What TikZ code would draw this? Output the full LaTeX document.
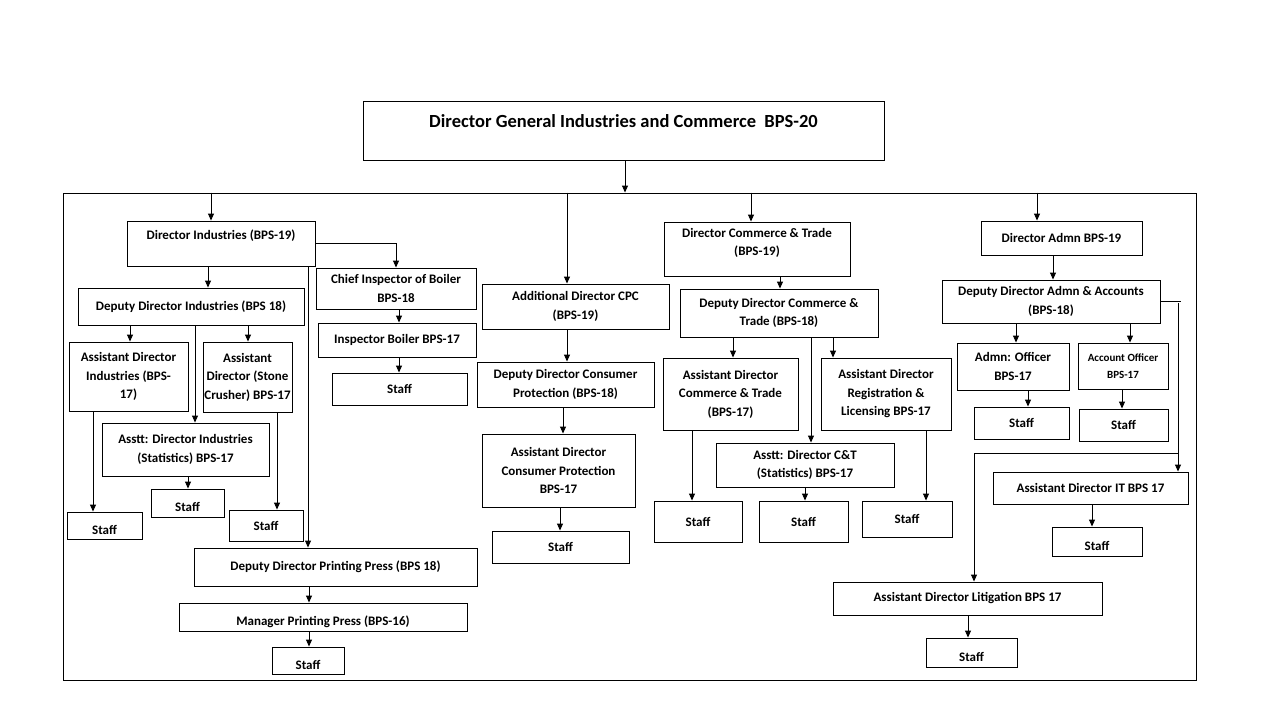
\documentclass[tikz,border=0pt]{standalone}
\usepackage{fontspec}
\setmainfont{Carlito}
\usetikzlibrary{arrows.meta}

\begin{document}
\begin{tikzpicture}[
		x=1pt, y=-1pt,
		box/.style = {
			draw,
			line width = 0.9pt,
			align = center,
			inner sep = 1pt,
			font = \bfseries\fontsize{13}{18.5}\selectfont
		},
		low/.style = {text height=17pt, text depth=0pt},
		arr/.style = {line width=0.9pt, -{Triangle[width=6pt,length=7pt]}}
	]
	\useasboundingbox (0,0) rectangle (1280,720);
	% head and frame
	\node[box, minimum width=521pt, minimum height=59pt, text height=13pt, text depth=20pt,
		font=\bfseries\fontsize{18.5}{22}\selectfont] (dg) at (623.5,130.5)
		{Director General Industries and Commerce\ \ BPS-20};
	\node[box, minimum width=1133pt, minimum height=487pt] (frame) at (629.5,436.5) {};
	% industries
	\node[box, minimum width=188pt, minimum height=45pt, text height=10pt, text depth=18pt] (di) at (221,243.5) {Director Industries (BPS-19)};
	\node[box, minimum width=160pt, minimum height=41pt] (cib) at (396,288.5) {Chief Inspector of Boiler\\BPS-18};
	\node[box, minimum width=158pt, minimum height=34pt] (ib) at (397,340) {Inspector Boiler BPS-17};
	\node[box, minimum width=135pt, minimum height=32pt] (stb) at (399.5,389) {Staff};
	\node[box, minimum width=226pt, minimum height=37pt] (ddi) at (191,306.5) {Deputy Director Industries (BPS 18)};
	\node[box, minimum width=119pt, minimum height=69pt] (adi) at (128.5,376.5) {Assistant Director\\Industries (BPS-\\17)};
	\node[box, minimum width=89pt, minimum height=70pt] (adsc) at (247.5,377) {Assistant\\Director (Stone\\Crusher) BPS-17};
	\node[box, minimum width=167pt, minimum height=53pt] (adis) at (185.5,449.5) {Asstt: Director Industries\\(Statistics) BPS-17};
	\node[box, low, minimum width=75pt, minimum height=27pt] (sta) at (104.5,525.5) {Staff};
	\node[box, low, minimum width=73pt, minimum height=28pt] (stis) at (187.5,503) {Staff};
	\node[box, minimum width=74pt, minimum height=31pt] (stsc) at (266,525.5) {Staff};
	\node[box, minimum width=283pt, minimum height=38pt] (ddpp) at (335.5,567) {Deputy Director Printing Press (BPS 18)};
	\node[box, low, minimum width=288pt, minimum height=28pt] (mpp) at (323,617) {Manager Printing Press (BPS-16)};
	\node[box, low, minimum width=72pt, minimum height=27pt] (stpp) at (308,660.5) {Staff};
	% consumer protection
	\node[box, minimum width=187pt, minimum height=45pt] (adcpc) at (575.5,306.5) {Additional Director CPC\\(BPS-19)};
	\node[box, minimum width=177pt, minimum height=45pt] (ddcp) at (565.5,384.5) {Deputy Director Consumer\\Protection (BPS-18)};
	\node[box, minimum width=153pt, minimum height=73pt] (adcp) at (558.5,470.5) {Assistant Director\\Consumer Protection\\BPS-17};
	\node[box, minimum width=137pt, minimum height=32pt] (stcp) at (560.5,547) {Staff};
	% commerce and trade
	\node[box, minimum width=186pt, minimum height=54pt, text depth=14pt] (dct) at (757,249) {Director Commerce \& Trade\\(BPS-19)};
	\node[box, minimum width=198pt, minimum height=48pt] (ddct) at (779,313) {Deputy Director Commerce \&\\Trade (BPS-18)};
	\node[box, minimum width=135pt, minimum height=72pt] (adct) at (730.5,394) {Assistant Director\\Commerce \& Trade\\(BPS-17)};
	\node[box, minimum width=130pt, minimum height=72pt] (adrl) at (886,394) {Assistant Director\\Registration \&\\Licensing BPS-17};
	\node[box, minimum width=178pt, minimum height=44pt] (adcts) at (805,465) {Asstt: Director C\&T\\(Statistics) BPS-17};
	\node[box, minimum width=88pt, minimum height=41pt] (stct) at (698,521.5) {Staff};
	\node[box, minimum width=89pt, minimum height=41pt] (stcs) at (803.5,521.5) {Staff};
	\node[box, minimum width=90pt, minimum height=36pt] (strl) at (907,519) {Staff};
	% admn
	\node[box, minimum width=161pt, minimum height=34pt] (da) at (1061.5,238) {Director Admn BPS-19};
	\node[box, minimum width=218pt, minimum height=43pt] (ddaa) at (1051,301.5) {Deputy Director Admn \& Accounts\\(BPS-18)};
	\node[box, minimum width=112pt, minimum height=47pt] (ao) at (1013,366.5) {Admn: Officer\\BPS-17};
	\node[box, minimum width=90pt, minimum height=46pt, font=\bfseries\fontsize{11}{17}\selectfont] (acco) at (1123,366) {Account Officer\\BPS-17};
	\node[box, minimum width=95pt, minimum height=32pt] (stao) at (1021.5,423) {Staff};
	\node[box, minimum width=89pt, minimum height=32pt] (stac) at (1123.5,425) {Staff};
	\node[box, minimum width=195pt, minimum height=32pt] (adit) at (1090.5,488) {Assistant Director IT BPS 17};
	\node[box, low, minimum width=90pt, minimum height=29pt] (stit) at (1097,541.5) {Staff};
	\node[box, minimum width=269pt, minimum height=33pt] (adl) at (967.5,598.5) {Assistant Director Litigation BPS 17};
	\node[box, low, minimum width=91pt, minimum height=29pt] (stl) at (971.5,652.5) {Staff};

	% connectors from the top
	\draw[arr] (dg.south -| 625,0) -- (625,0 |- frame.north);
	\draw[arr] (211,0 |- frame.north) -- (211,0 |- di.north);
	\draw[arr] (567,0 |- frame.north) -- (567,0 |- adcpc.north);
	\draw[arr] (751,0 |- frame.north) -- (751,0 |- dct.north);
	\draw[arr] (1037,0 |- frame.north) -- (1037,0 |- da.north);
	% industries
	\draw[arr] (di.east) -| (cib.north);
	\draw[arr] (399,0 |- cib.south) -- (399,0 |- ib.north);
	\draw[arr] (399,0 |- ib.south) -- (399,0 |- stb.north);
	\draw[arr] (208,0 |- di.south) -- (208,0 |- ddi.north);
	\draw[arr] (308,0 |- di.south) -- (308,0 |- ddpp.north);
	\draw[arr] (130,0 |- ddi.south) -- (130,0 |- adi.north);
	\draw[arr] (248,0 |- ddi.south) -- (248,0 |- adsc.north);
	\draw[arr] (195,0 |- ddi.south) -- (195,0 |- adis.north);
	\draw[arr] (93,0 |- adi.south) -- (93,0 |- sta.north);
	\draw[arr] (188,0 |- adis.south) -- (188,0 |- stis.north);
	\draw[arr] (277,0 |- adsc.south) -- (277,0 |- stsc.north);
	\draw[arr] (309,0 |- ddpp.south) -- (309,0 |- mpp.north);
	\draw[arr] (309,0 |- mpp.south) -- (309,0 |- stpp.north);
	% consumer protection
	\draw[arr] (567,0 |- adcpc.south) -- (567,0 |- ddcp.north);
	\draw[arr] (563,0 |- ddcp.south) -- (563,0 |- adcp.north);
	\draw[arr] (560,0 |- adcp.south) -- (560,0 |- stcp.north);
	% commerce and trade
	\draw[arr] (780,0 |- dct.south) -- (780,0 |- ddct.north);
	\draw[arr] (733,0 |- ddct.south) -- (733,0 |- adct.north);
	\draw[arr] (833,0 |- ddct.south) -- (833,0 |- adrl.north);
	\draw[arr] (811,0 |- ddct.south) -- (811,0 |- adcts.north);
	\draw[arr] (692,0 |- adct.south) -- (692,0 |- stct.north);
	\draw[arr] (805,0 |- adcts.south) -- (805,0 |- stcs.north);
	\draw[arr] (926,0 |- adrl.south) -- (926,0 |- strl.north);
	% admn
	\draw[arr] (1053,0 |- da.south) -- (1053,0 |- ddaa.north);
	\draw[arr] (1016,0 |- ddaa.south) -- (1016,0 |- ao.north);
	\draw[arr] (1130,0 |- ddaa.south) -- (1130,0 |- acco.north);
	\draw[arr] (1028,0 |- ao.south) -- (1028,0 |- stao.north);
	\draw[arr] (1122,0 |- acco.south) -- (1122,0 |- stac.north);
	\coordinate (itdrop) at (1178,303);
	\coordinate (itsplit) at (1178,453);
	\draw[line width=0.9pt] (ddaa.east) -- ++(21,0);
	\draw[arr] (itdrop) -- (itdrop |- adit.north);
	\draw[arr] (itsplit) -| (974,0 |- adl.north);
	\draw[arr] (1092,0 |- adit.south) -- (1092,0 |- stit.north);
	\draw[arr] (968,0 |- adl.south) -- (968,0 |- stl.north);
\end{tikzpicture}
\end{document}
